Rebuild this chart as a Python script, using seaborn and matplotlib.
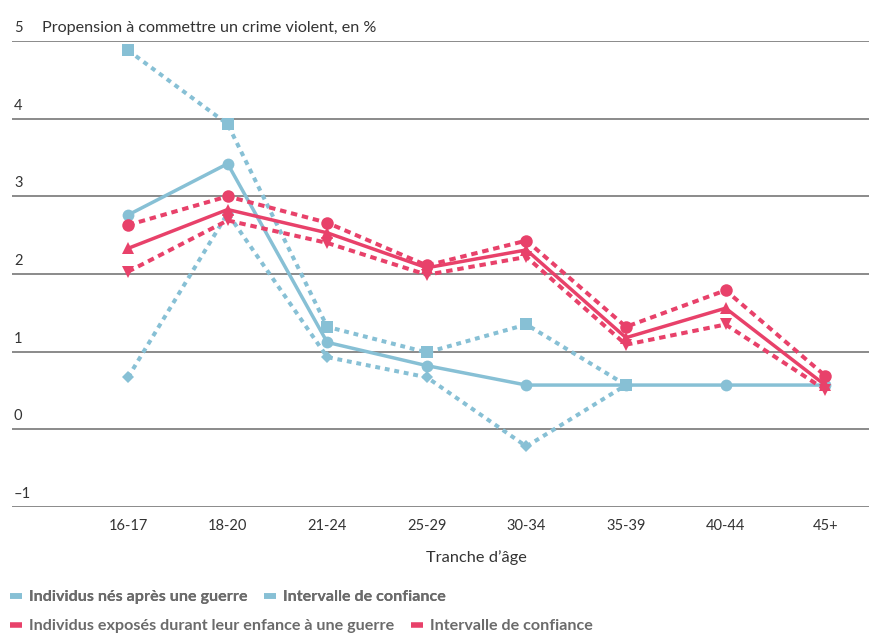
import matplotlib
matplotlib.use("Agg")
import matplotlib.pyplot as plt
import matplotlib.transforms as mtransforms
from matplotlib.lines import Line2D
import numpy as np
import pandas as pd
import seaborn as sns

# Age groups and rates (%) of violent-crime propensity
age_groups = ["16-17", "18-20", "21-24", "25-29", "30-34", "35-39", "40-44", "45+"]

born_after_war = [2.76, 3.42, 1.12, 0.82, 0.57, 0.57, 0.57, 0.57]
born_after_upper = [4.88, 3.93, 1.32, 0.99, 1.35, 0.57, np.nan, np.nan]
born_after_lower = [0.67, 2.78, 0.93, 0.67, -0.22, 0.57, np.nan, np.nan]

exposed_war = [2.33, 2.83, 2.53, 2.08, 2.31, 1.18, 1.56, 0.57]
exposed_upper = [2.63, 3.00, 2.66, 2.11, 2.43, 1.32, 1.79, 0.69]
exposed_lower = [2.03, 2.69, 2.40, 1.99, 2.22, 1.09, 1.35, 0.51]

y_ticks = [-1, 0, 1, 2, 3, 4, 5]

BLUE = "#87C0D5"
RED = "#E8416A"
TEXT = "#333333"
LEGEND_TEXT = "#6b6b6b"

sns.set_theme(style="white")
plt.rcParams["font.family"] = ["Lato", "DejaVu Sans"]

fig = plt.figure(figsize=(8.7, 6.34), dpi=100)
ax = fig.add_axes([12 / 870, 127 / 634, 1 - 12 / 870, (507 - 41) / 634])

df = pd.DataFrame({"age": np.arange(len(age_groups))})

series = [
    (born_after_upper, BLUE, "s", (1.2, 1.2), 9.0),
    (born_after_lower, BLUE, "D", (1.2, 1.2), 6.5),
    (born_after_war, BLUE, "o", None, 8.5),
    (exposed_upper, RED, "o", (1.6, 1.2), 9.0),
    (exposed_lower, RED, "v", (1.6, 1.2), 9.0),
    (exposed_war, RED, "^", None, 9.0),
]

for values, color, marker, dashes, msize in series:
    d = df.assign(val=values)
    if dashes:
        kw = dict(linestyle=(0, dashes), linewidth=2.9)
    else:
        kw = dict(linestyle="-", linewidth=2.5)
    sns.lineplot(data=d, x="age", y="val", ax=ax, color=color, marker=marker,
                 markersize=msize, markeredgewidth=0,
                 sort=False, legend=False, **kw)

ax.set_xlim(-1.165, 7.45)
ax.set_ylim(-1, 5)
for s in ax.spines.values():
    s.set_visible(False)

# horizontal reference lines
for v in y_ticks:
    ax.axhline(v, color="#8a8a8a", linewidth=1.4, zorder=0)

ax.set_yticks([])
ax.set_xticks(np.arange(len(age_groups)))
ax.set_xticklabels(age_groups, fontsize=10.5, color=TEXT)
ax.tick_params(axis="x", length=0, pad=9)
ax.set_xlabel("")
ax.set_ylabel("")

# y labels sit just above their gridline, at the left edge
ytrans = ax.get_yaxis_transform() + mtransforms.ScaledTranslation(2 / 100, 9 / 100, fig.dpi_scale_trans)
for v in y_ticks:
    ax.text(0, v, "\u2013" + str(-v) if v < 0 else str(v), transform=ytrans,
            ha="left", va="baseline", fontsize=10.5, color=TEXT)

ax.text(0, 5, "Propension à commettre un crime violent, en %",
        transform=ax.get_yaxis_transform() + mtransforms.ScaledTranslation(30 / 100, 9 / 100, fig.dpi_scale_trans),
        ha="left", va="baseline", fontsize=11.6, color=TEXT)

ax.text(3.5, -1, "Tranche\u00a0d\u2019âge",
        transform=ax.transData + mtransforms.ScaledTranslation(0, -51 / 100, fig.dpi_scale_trans),
        ha="center", va="center", fontsize=11.8, color=TEXT)

# legend rows
def legend_row(labels, color, ypix):
    handles = [Line2D([0], [0], color=color, linewidth=4, solid_capstyle="butt") for _ in labels]
    leg = fig.legend(handles, labels, loc="center left",
                     bbox_to_anchor=(10 / 870, 1 - ypix / 634), ncol=2, frameon=False,
                     handlelength=0.75, handletextpad=0.45, columnspacing=1.0,
                     borderaxespad=0, borderpad=0,
                     prop={"family": "Lato", "weight": "bold", "size": 11.6})
    for t in leg.get_texts():
        t.set_color(LEGEND_TEXT)
    return leg

l1 = legend_row(["Individus nés après une guerre", "Intervalle de confiance"], BLUE, 597)
fig.add_artist(l1)
legend_row(["Individus exposés durant leur enfance à une guerre", "Intervalle de confiance"], RED, 626)

fig.savefig("out.png", dpi=100)
